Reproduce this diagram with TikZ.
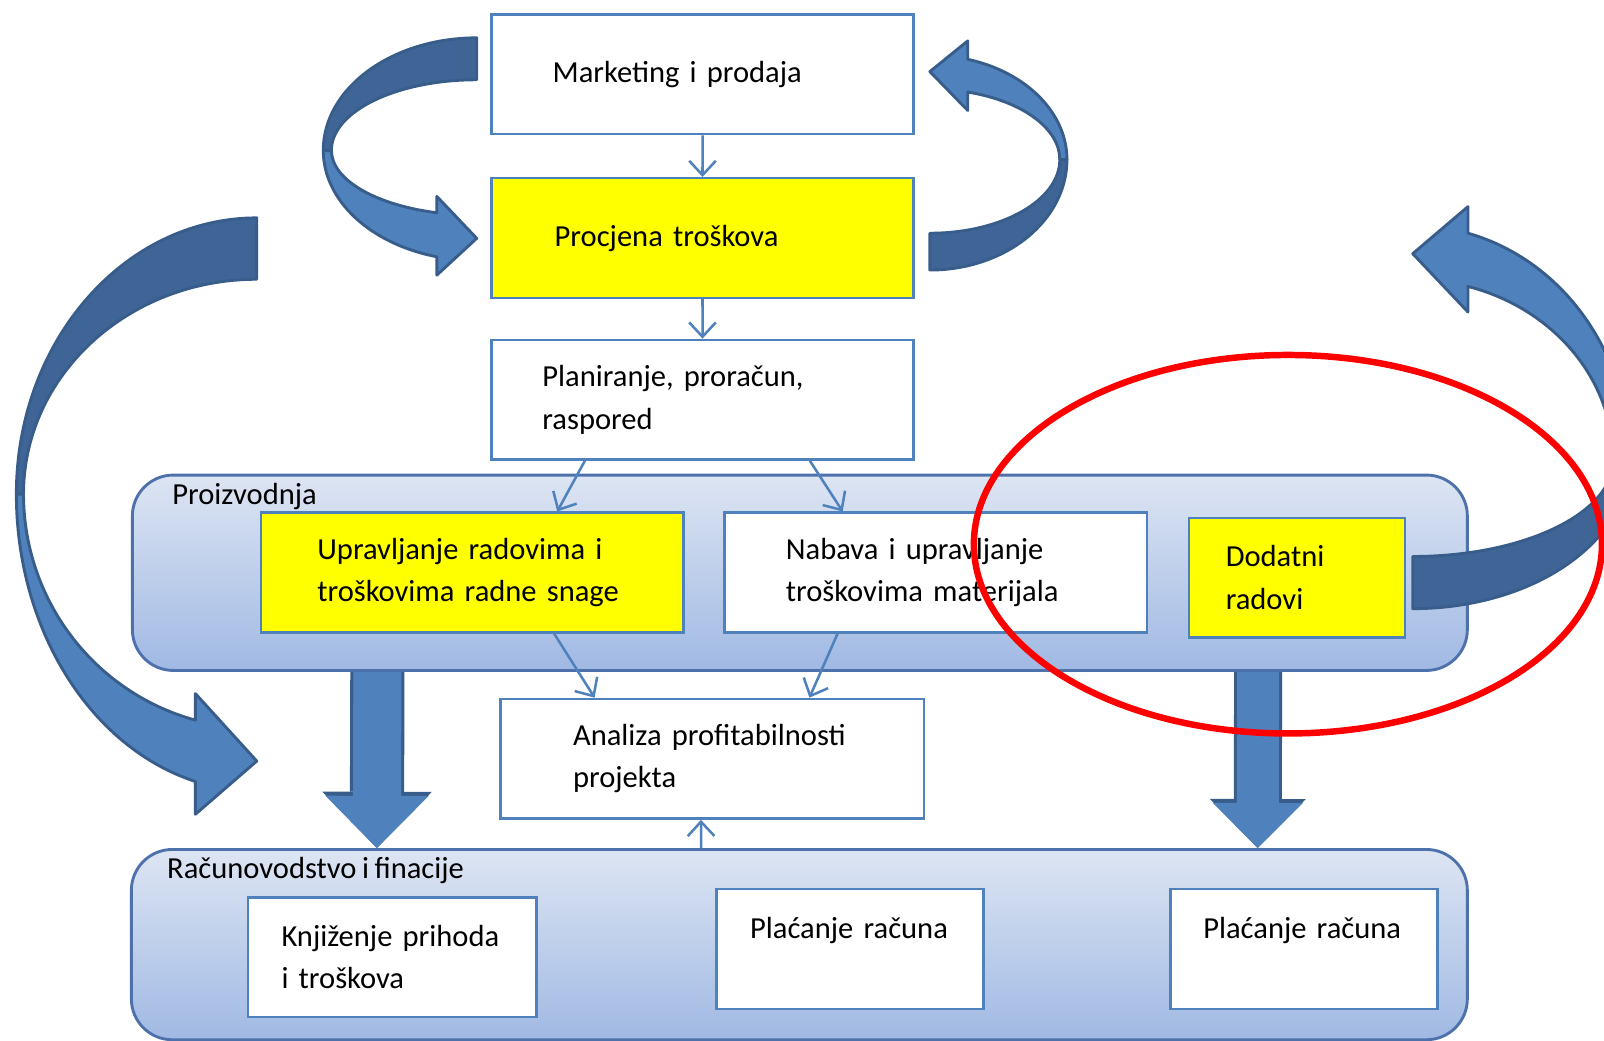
\documentclass[tikz,border=0pt]{standalone}
\usepackage{fontspec}
\setmainfont{Carlito}[WordSpace=0.8]
\usetikzlibrary{arrows.meta,positioning}

\definecolor{boxline}{RGB}{79,129,189}
\definecolor{hotyellow}{RGB}{255,255,0}
\definecolor{zoneline}{RGB}{79,113,171}
\definecolor{zonetop}{RGB}{221,229,243}
\definecolor{zonebottom}{RGB}{160,185,227}
\definecolor{arrowfront}{RGB}{79,129,189}
\definecolor{arrowback}{RGB}{63,101,150}
\definecolor{arrowedge}{RGB}{56,93,138}

\begin{document}
\begin{tikzpicture}[font=\fontsize{8.5}{11.8}\selectfont,
    stage/.style={draw=boxline, line width=0.7pt, fill=white, anchor=north west,
                  minimum height=1.17cm, align=left, inner ysep=0pt},
    hilite/.style={fill=hotyellow},
    zone/.style={draw=zoneline, line width=0.8pt, rounded corners=0.4cm,
                 top color=zonetop, bottom color=zonebottom, anchor=north west},
    flow/.style={draw=boxline, line width=0.7pt, -{Straight Barb[length=1.4mm,width=2.6mm]}},
    ribbonback/.style={fill=arrowback, draw=arrowedge, line width=0.8pt, line join=round},
    ribbonfront/.style={fill=arrowfront, draw=arrowedge, line width=0.8pt, line join=round}]
  \useasboundingbox (0,0) rectangle (15.68,-10.17);
  \clip (0,0) rectangle (15.68,-10.17);
  \fill[white] (0,0) rectangle (15.68,-10.17);

  % departments
  \node[zone, minimum width=13.05cm, minimum height=1.91cm] (prod) at (1.28,-4.63) {};
  \node[anchor=base west] (prodname) at ([xshift=0.28cm, yshift=-0.30cm]prod.north west) {Proizvodnja};
  \node[zone, minimum width=13.06cm, minimum height=1.86cm] (rac) at (1.27,-8.29) {};
  \node[anchor=base west] (racname) at ([xshift=0.24cm, yshift=-0.30cm]rac.north west) {Računovodstvo i finacije};

  % Marketing -> Procjena
  \begin{scope}[shift={(4.66,-0.36)}]
    \path[ribbonback] (0,-0.01) arc[start angle=90, end angle=180, x radius=1.50, y radius=1.10]
      -- (-1.42,-1.11) arc[start angle=180, end angle=90, x radius=1.42, y radius=0.69] -- cycle;
    \path[ribbonfront] (-1.50,-1.11) arc[start angle=180, end angle=254.93, x radius=1.50, y radius=1.077]
      -- (-0.39,-2.33) -- (0,-1.97) -- (-0.39,-1.56) -- (-0.39,-1.72)
      arc[start angle=254.06, end angle=180, x radius=1.42, y radius=0.634] -- cycle;
  \end{scope}
  % Procjena -> Marketing
  \begin{scope}[shift={(9.09,-2.66)}, rotate=180]
    \path[ribbonback] (0,-0.02) arc[start angle=90, end angle=180, x radius=1.34, y radius=1.08]
      -- (-1.27,-1.10) arc[start angle=180, end angle=90, x radius=1.27, y radius=0.72] -- cycle;
    \path[ribbonfront] (-1.34,-1.10) arc[start angle=180, end angle=253.97, x radius=1.34, y radius=1.02]
      -- (-0.37,-2.26) -- (0,-1.96) -- (-0.37,-1.58) -- (-0.37,-1.76)
      arc[start angle=253.06, end angle=180, x radius=1.27, y radius=0.69] -- cycle;
  \end{scope}
  % big loop on the left
  \begin{scope}[shift={(2.51,-2.11)}]
    \path[ribbonback] (0,-0.02) arc[start angle=90, end angle=180, x radius=2.35, y radius=2.70]
      -- (-2.28,-2.72) arc[start angle=180, end angle=90, x radius=2.28, y radius=2.10] -- cycle;
    \path[ribbonfront] (-2.35,-2.72) arc[start angle=180, end angle=255.21, x radius=2.35, y radius=2.906]
      -- (-0.60,-5.85) -- (0,-5.33) -- (-0.60,-4.67) -- (-0.60,-4.93)
      arc[start angle=254.74, end angle=180, x radius=2.28, y radius=2.291] -- cycle;
  \end{scope}

  % stages
  \node[stage, text width=2.93cm, inner xsep=0.60cm] (mkt) at (4.79,-0.13) {Marketing i prodaja};
  \node[stage, hilite, text width=2.89cm, inner xsep=0.62cm] (proc) at (4.79,-1.73) {Procjena troškova};
  \node[stage, text width=3.13cm, inner xsep=0.50cm] (plan) at (4.79,-3.31) {Planiranje, proračun,\\raspored};
  \node[stage, hilite, text width=3.03cm, inner xsep=0.55cm] (upr) at (2.54,-5.00) {Upravljanje radovima i\\troškovima radne snage};
  \node[stage, text width=2.93cm, inner xsep=0.60cm] (nab) at (7.07,-5.00) {Nabava i upravljanje\\troškovima materijala};
  \node[stage, hilite, text width=1.39cm, inner xsep=0.36cm] (dod) at (11.61,-5.05) {Dodatni\\radovi};
  \node[stage, text width=2.72cm, inner xsep=0.71cm] (ana) at (4.88,-6.82) {Analiza profitabilnosti\\projekta};
  \node[stage, text width=2.16cm, inner xsep=0.33cm] (knj) at (2.41,-8.76) {Knjiženje prihoda\\i troškova};
  \node[stage, text width=1.95cm, inner xsep=0.33cm] (pla) at (6.99,-8.68) {Plaćanje računa\\ \mbox{}};
  \node[stage, text width=1.97cm, inner xsep=0.32cm] (plb) at (11.43,-8.68) {Plaćanje računa\\ \mbox{}};

  % flows
  \draw[flow] (mkt) -- (proc);
  \draw[flow] (proc) -- (plan);
  \draw[flow] ([xshift=-1.15cm]plan.south) -- ([xshift=0.83cm]upr.north);
  \draw[flow] ([xshift=1.05cm]plan.south) -- ([xshift=-0.91cm]nab.north);
  \draw[flow] ([xshift=0.80cm]upr.south) -- ([xshift=-1.15cm]ana.north);
  \draw[flow] ([xshift=-0.96cm]nab.south) -- ([xshift=0.95cm]ana.north);
  \draw[flow] ([xshift=-0.96cm]rac.north) -- ([xshift=-0.11cm]ana.south);

  % Proizvodnja -> Racunovodstvo
  \draw[draw=arrowedge, line width=0.53cm, -{Triangle[length=0.55cm 0 0, width=1.07cm 0 0, line width=0pt 0 0]}]
    ([xshift=-4.13cm]prod.south) -- ([xshift=-4.13cm]rac.north);
  \draw[draw=arrowfront, line width=0.47cm, -{Triangle[length=0.51cm 0 0, width=1.01cm 0 0, line width=0pt 0 0]}]
    ([xshift=-4.13cm]prod.south) -- ([xshift=-4.13cm]rac.north);
  \draw[draw=arrowedge, line width=0.47cm, -{Triangle[length=0.48cm 0 0, width=0.94cm 0 0, line width=0pt 0 0]}]
    ([xshift=4.48cm]prod.south) -- ([xshift=4.48cm]rac.north);
  \draw[draw=arrowfront, line width=0.41cm, -{Triangle[length=0.44cm 0 0, width=0.88cm 0 0, line width=0pt 0 0]}]
    ([xshift=4.48cm]prod.south) -- ([xshift=4.48cm]rac.north);

  % Dodatni radovi -> back up
  \begin{scope}[shift={(13.81,-5.97)}, rotate=180]
    \path[ribbonback] (0,-0.02) arc[start angle=90, end angle=180, x radius=2.12, y radius=1.45]
      -- (-1.96,-1.47) arc[start angle=180, end angle=90, x radius=1.96, y radius=0.94] -- cycle;
    \path[ribbonfront] (-2.12,-1.47) arc[start angle=180, end angle=255.24, x radius=2.12, y radius=2.296]
      -- (-0.54,-3.95) -- (0,-3.49) -- (-0.54,-2.92) -- (-0.54,-3.17)
      arc[start angle=254.01, end angle=180, x radius=1.96, y radius=1.768] -- cycle;
  \end{scope}

  % highlight
  \draw[red, line width=1.8pt] (12.59,-5.32) ellipse [x radius=3.07, y radius=1.85];
\end{tikzpicture}
\end{document}
